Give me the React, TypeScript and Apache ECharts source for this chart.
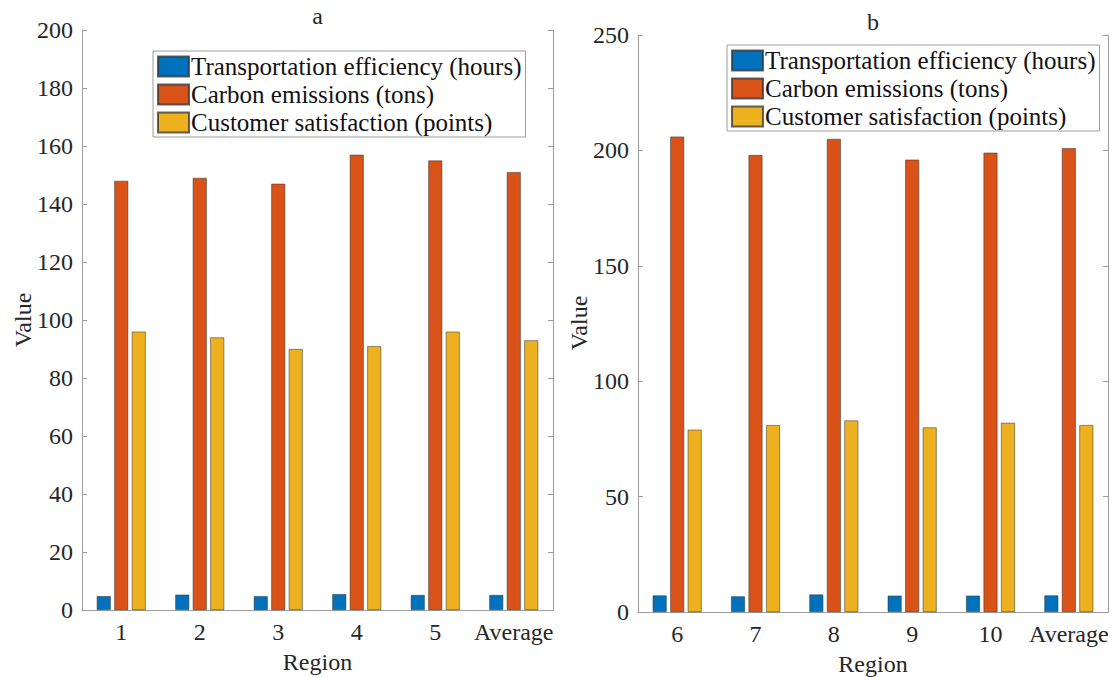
import React, { useEffect, useRef } from "react";
import * as echarts from "echarts";

const categoriesA = ["1", "2", "3", "4", "5", "Average"];
const categoriesB = ["6", "7", "8", "9", "10", "Average"];
const seriesNames = [
  "Transportation efficiency (hours)",
  "Carbon emissions (tons)",
  "Customer satisfaction (points)",
];
const efficiencyA = [4.8, 5.3, 4.8, 5.5, 5.2, 5.2];
const emissionsA = [148, 149, 147, 157, 155, 151];
const satisfactionA = [96, 94, 90, 91, 96, 93];
const efficiencyB = [7.2, 6.8, 7.6, 7.1, 7.1, 7.2];
const emissionsB = [206, 198, 205, 196, 199, 201];
const satisfactionB = [79, 81, 83, 80, 82, 81];

const colors = ["#0072BD", "#D95319", "#EDB120"];
const FONT = "Liberation Serif";
const TEXT = "#262626";
const AXIS = "#9c9c9c";

export default function App() {
  const ref = useRef<HTMLDivElement>(null);
  useEffect(() => {
    if (!ref.current) return;
    const chart = echarts.init(ref.current, null, { renderer: "svg" });

    const grids = [
      { left: 82, top: 30, width: 471, height: 580 },
      { left: 638, top: 35, width: 470, height: 577 },
    ];
    const cats = [categoriesA, categoriesB];
    const yMax = [200, 250];
    const yInt = [20, 50];

    const xAxis: any[] = [];
    const yAxis: any[] = [];
    [0, 1].forEach((g) => {
      xAxis.push({
        type: "category",
        gridIndex: g,
        data: cats[g],
        position: "bottom",
        axisLine: { lineStyle: { color: AXIS, width: 1 } },
        axisTick: { inside: true, alignWithLabel: true, length: 5, lineStyle: { color: "#555" } },
        axisLabel: { fontFamily: FONT, fontSize: 24, color: TEXT, margin: 10, interval: 0 },
      });
      xAxis.push({
        type: "category",
        gridIndex: g,
        data: cats[g],
        position: "top",
        axisLine: { lineStyle: { color: AXIS, width: 1 } },
        axisTick: { inside: true, alignWithLabel: true, length: 5, lineStyle: { color: AXIS } },
        axisLabel: { show: false },
      });
      yAxis.push({
        type: "value",
        gridIndex: g,
        min: 0,
        max: yMax[g],
        interval: yInt[g],
        position: "left",
        axisLine: { show: true, lineStyle: { color: AXIS, width: 1 } },
        axisTick: { show: true, inside: true, length: 5, lineStyle: { color: AXIS } },
        axisLabel: { fontFamily: FONT, fontSize: 24, color: TEXT, margin: 9 },
        splitLine: { show: false },
      });
      yAxis.push({
        type: "value",
        gridIndex: g,
        min: 0,
        max: yMax[g],
        interval: yInt[g],
        position: "right",
        axisLine: { show: true, lineStyle: { color: AXIS, width: 1 } },
        axisTick: { show: true, inside: true, length: 5, lineStyle: { color: AXIS } },
        axisLabel: { show: false },
        splitLine: { show: false },
      });
    });

    const dataSets = [
      [efficiencyA, emissionsA, satisfactionA],
      [efficiencyB, emissionsB, satisfactionB],
    ];
    const series: any[] = [];
    [0, 1].forEach((g) => {
      dataSets[g].forEach((d, i) => {
        series.push({
          type: "bar",
          name: seriesNames[i],
          xAxisIndex: g * 2,
          yAxisIndex: g * 2,
          data: d,
          barWidth: 14,
          barGap: "25%",
          itemStyle: {
            color: colors[i],
            borderColor: "rgba(50,50,50,0.75)",
            borderWidth: 0.7,
          },
        });
      });
    });

    const legendBase = {
      orient: "vertical",
      data: seriesNames,
      icon: "rect",
      itemWidth: 31,
      itemHeight: 20,
      itemGap: 3,
      padding: [3, 4, 2, 4],
      borderColor: AXIS,
      borderWidth: 1,
      backgroundColor: "#fff",
      selectedMode: false,
      textStyle: {
        fontFamily: FONT,
        fontSize: 25,
        color: "#111",
        width: 332,
        overflow: "none",
        padding: [0, 0, 0, -3],
      },
    };

    const txt = (text: string, x: number, y: number, size: number, rot = 0) => ({
      type: "text",
      x,
      y,
      rotation: rot,
      style: {
        text,
        font: `${size}px "${FONT}"`,
        fill: TEXT,
        align: "center",
        verticalAlign: "middle",
      },
    });

    chart.setOption({
      animation: false,
      backgroundColor: "#ffffff",
      grid: grids,
      xAxis,
      yAxis,
      series,
      legend: [
        { ...legendBase, left: 153, top: 51 },
        { ...legendBase, left: 727, top: 45 },
      ],
      graphic: [
        txt("a", 317.5, 16, 24),
        txt("b", 873, 22, 24),
        txt("Region", 317.5, 662, 24),
        txt("Region", 873, 664, 24),
        txt("Value", 23, 320, 24, Math.PI / 2),
        txt("Value", 579, 323, 24, Math.PI / 2),
      ],
    });

    return () => chart.dispose();
  }, []);

  return (
    <div
      ref={ref}
      style={{ position: "absolute", left: 0, top: 0, width: 1114, height: 677, background: "#fff" }}
    />
  );
}
